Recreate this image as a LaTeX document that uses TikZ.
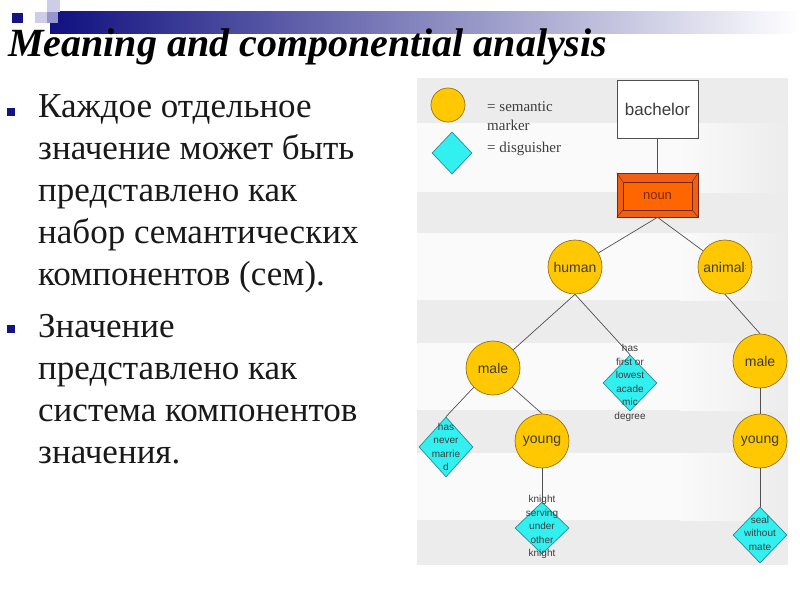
\documentclass[tikz,border=0pt]{standalone}
\usepackage{fontspec}
\setmainfont{Liberation Serif}
\newfontfamily\diagfont{Liberation Sans}
\usetikzlibrary{shapes.geometric}
\definecolor{hdrNavy}{RGB}{16,16,128}
\definecolor{sqNavy}{RGB}{20,20,130}
\definecolor{lavLight}{RGB}{205,205,232}
\definecolor{lavMid}{RGB}{150,150,205}
\definecolor{bandGray}{RGB}{236,236,236}
\definecolor{bandLight}{RGB}{250,250,250}
\definecolor{markerFill}{RGB}{255,200,0}
\definecolor{markerEdge}{RGB}{150,115,20}
\definecolor{disgFill}{RGB}{51,240,240}
\definecolor{disgEdge}{RGB}{40,140,150}
\definecolor{lineGray}{RGB}{80,80,80}
\definecolor{txtGray}{RGB}{60,60,60}
\definecolor{nounOuter}{RGB}{240,95,20}
\definecolor{nounInner}{RGB}{255,102,0}
\definecolor{nounEdge}{RGB}{120,40,10}
\definecolor{bodyText}{RGB}{25,25,25}
\tikzset{
  marker/.style={circle, draw=markerEdge, fill=markerFill, line width=0.7pt,
    minimum size=54pt, inner sep=0pt, text=txtGray,
    font=\diagfont\fontsize{14}{16}\selectfont},
  disg/.style={diamond, draw=disgEdge, fill=disgFill, line width=0.7pt,
    minimum width=54pt, minimum height=56pt, inner sep=0pt},
  disgtext/.style={align=center, inner sep=0pt, text=txtGray,
    font=\diagfont\fontsize{10}{13.5}\selectfont},
  conn/.style={draw=lineGray, line width=0.7pt},
  bodyline/.style={anchor=base west, inner sep=0pt, text=bodyText,
    font=\fontsize{35}{42}\selectfont},
  bulletsq/.style={fill=sqNavy},
  legtext/.style={anchor=base west, inner sep=0pt, text=txtGray,
    font=\fontsize{15}{17}\selectfont}
}
\begin{document}
\begin{tikzpicture}[x=1pt,y=-1pt]
\useasboundingbox (0,0) rectangle (800,600);
\fill[white] (0,0) rectangle (800,600);
% header
\shade[left color=hdrNavy, right color=white] (50,11) rectangle (800,33);
\fill[sqNavy] (12,13) rectangle (23,23);
\fill[lavLight] (35,12) rectangle (47,23);
\fill[lavMid] (47,12) rectangle (58,23);
\fill[lavLight] (47,0) rectangle (60,12);
\node[anchor=base west, inner sep=0pt, font=\bfseries\itshape\fontsize{40}{40}\selectfont]
  (title) at (8,56) {Meaning and componential analysis};
% bullets
\fill[bulletsq] (7,108) rectangle (15,116);
\fill[bulletsq] (7,325) rectangle (15,333);
\node[bodyline] (t1) at (38,117) {Каждое отдельное};
\node[bodyline] (t2) at (38,159) {значение может быть};
\node[bodyline] (t3) at (38,201) {представлено как};
\node[bodyline] (t4) at (38,243) {набор семантических};
\node[bodyline] (t5) at (38,285) {компонентов (сем).};
\node[bodyline] (t6) at (38,337) {Значение};
\node[bodyline] (t7) at (38,379) {представлено как};
\node[bodyline] (t8) at (38,421) {система компонентов};
\node[bodyline] (t9) at (38,463) {значения.};
% diagram background bands
\fill[bandGray] (417,78) rectangle (788,565);
\foreach \ya/\yb in {123/192, 233/300, 343/410, 453/520} {
  \fill[bandLight] (417,\ya) rectangle (680,\yb);
  \shade[left color=bandLight, right color=bandGray] (680,\ya) rectangle (788,\yb);
}
% legend
\node[marker, minimum size=34pt] (legm) at (448,105) {};
\node[disg, minimum width=40pt, minimum height=42pt] (legd) at (452,153) {};
\node[legtext] (leg1) at (487,111) {= semantic};
\node[legtext] (leg2) at (487,130) {marker};
\node[legtext] (leg3) at (487,152) {= disguisher};
% tree nodes
\node[draw=lineGray, fill=white, line width=0.7pt, minimum width=81pt, minimum height=58pt,
  inner sep=0pt, text=txtGray, font=\diagfont\fontsize{17}{19}\selectfont]
  (bachelor) at (657.5,109) {bachelor};
\node[draw=nounEdge, fill=nounOuter, line width=0.6pt, minimum width=81pt, minimum height=44pt,
  inner sep=0pt] (noun) at (657.5,195) {};
\node[draw=nounEdge, fill=nounInner, line width=0.6pt, minimum width=69pt, minimum height=28pt,
  inner sep=0pt, text=nounEdge, font=\diagfont\fontsize{13}{15}\selectfont]
  (nounin) at (657.5,196) {noun};
\draw[nounEdge, line width=0.5pt] (noun.north west) -- (nounin.north west)
  (noun.north east) -- (nounin.north east)
  (noun.south west) -- (nounin.south west)
  (noun.south east) -- (nounin.south east);
\node[marker] (human) at (575,267) {human};
\node[marker] (animal) at (725,267) {animal\raisebox{0.3ex}{\fontsize{7}{7}\selectfont:}};
\node[marker] (maleL) at (493,368) {male};
\node[marker] (youngL) at (542,441) {young};
\node[marker] (maleR) at (760,361) {male};
\node[marker] (youngR) at (760,441) {young};
\node[disg] (dA) at (630,383) {};
\node[disg, minimum height=60pt] (dB) at (446,447) {};
\node[disg, minimum height=52pt] (dC) at (542,528) {};
\node[disg] (dD) at (760,535) {};
% connectors
\draw[conn] (bachelor.south) -- (noun.north);
\draw[conn] (noun.south) -- (human);
\draw[conn] (noun.south) -- (animal);
\draw[conn] (human.south) -- (maleL);
\draw[conn] (human.south) -- (dA.north);
\draw[conn] (maleL.-45) -- (youngL.north);
\draw[conn] (maleL.-135) -- (dB.north);
\draw[conn] (youngL.south) -- (dC.north);
\draw[conn] (animal.south) -- (maleR.north);
\draw[conn] (maleR.south) -- (youngR.north);
\draw[conn] (youngR.south) -- (dD.north);
% diamond texts
\node[disgtext] (dAt) at (630,383) {has\\first or\\lowest\\acade\\mic\\degree};
\node[disgtext] (dBt) at (446,447) {has\\never\\marrie\\d};
\node[disgtext] (dCt) at (542,527) {knight\\serving\\under\\other\\knight};
\node[disgtext] (dDt) at (760,533) {seal\\without\\mate};
\end{tikzpicture}
\end{document}
